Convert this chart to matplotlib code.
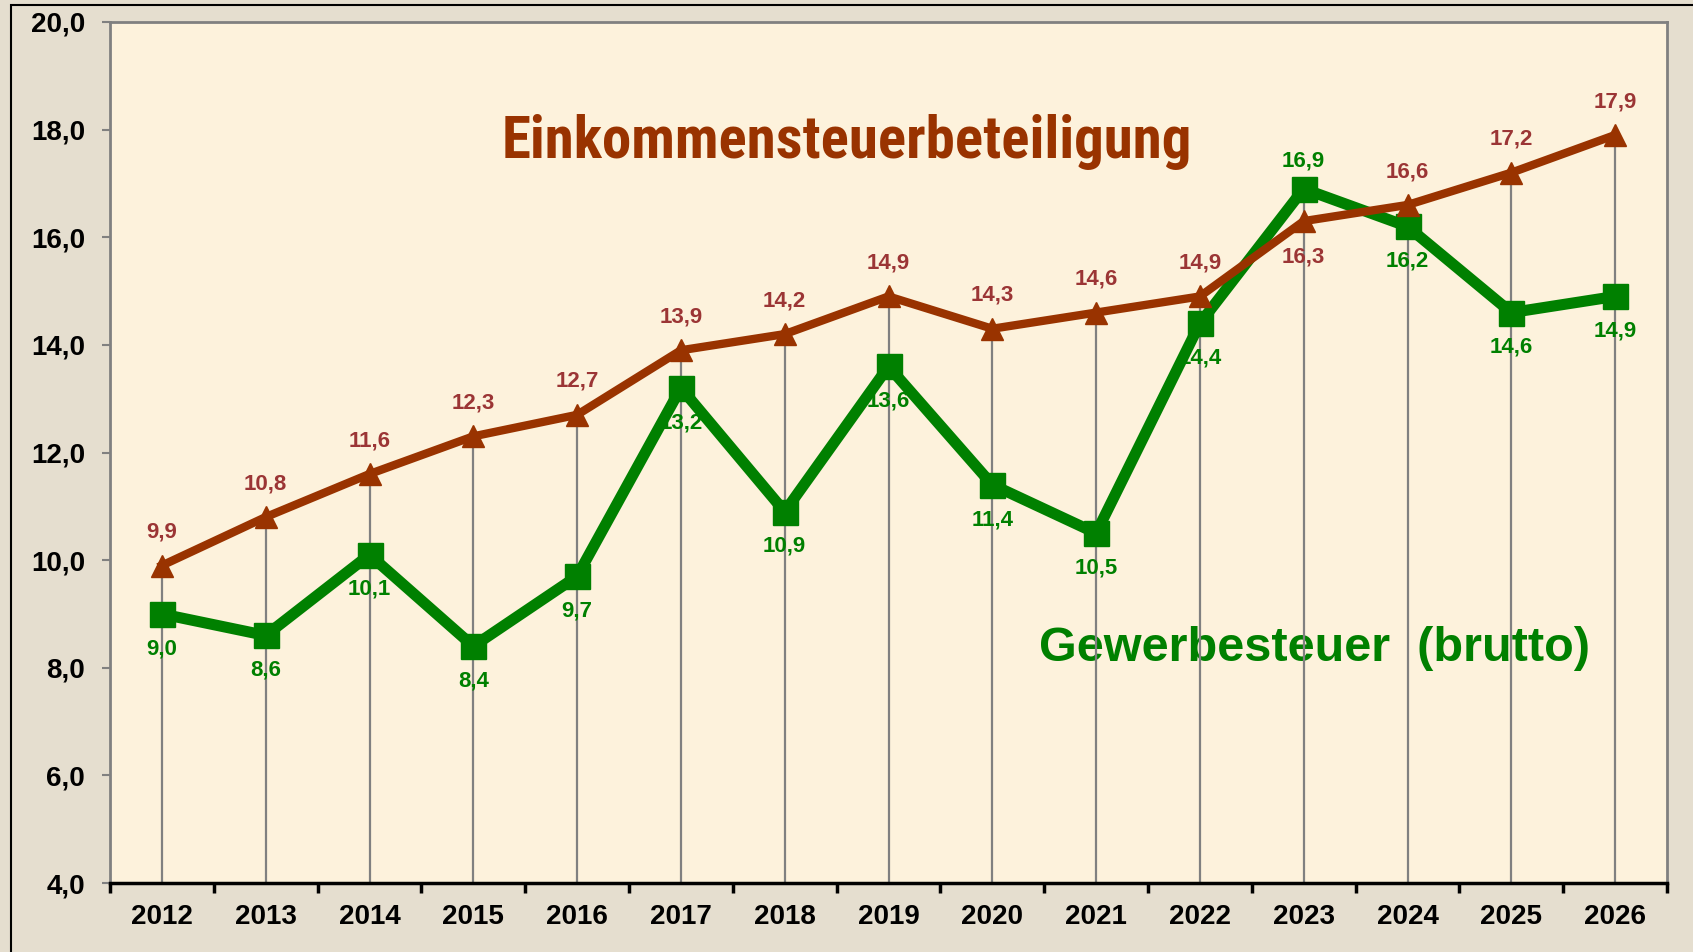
import matplotlib
matplotlib.use('Agg')
import matplotlib.pyplot as plt
from matplotlib import font_manager
from matplotlib.patches import Rectangle
import numpy as np

plt.rcParams['font.family'] = ['Liberation Sans', 'DejaVu Sans']

# Daten (Mio. EUR)
jahre = ['2012', '2013', '2014', '2015', '2016', '2017', '2018', '2019',
         '2020', '2021', '2022', '2023', '2024', '2025', '2026']
est = [9.9, 10.8, 11.6, 12.3, 12.7, 13.9, 14.2, 14.9, 14.3, 14.6, 14.9, 16.3, 16.6, 17.2, 17.9]
gew = [9.0, 8.6, 10.1, 8.4, 9.7, 13.2, 10.9, 13.6, 11.4, 10.5, 14.4, 16.9, 16.2, 14.6, 14.9]
y_ticks = [4, 6, 8, 10, 12, 14, 16, 18, 20]

braun = '#993300'
braun_lab = '#9b3535'
gruen = '#008000'

# schmale Schrift fuer den Titel suchen
schmal = None
for f in font_manager.fontManager.ttflist:
    n = (f.name + ' ' + f.fname).lower()
    if ('narrow' in n or 'condensed' in n) and 'italic' not in n and 'oblique' not in n:
        if schmal is None or 'bold' in f.fname.lower():
            schmal = f.fname
if schmal:
    titel_fp = font_manager.FontProperties(fname=schmal, size=44)
else:
    titel_fp = font_manager.FontProperties(family='Liberation Sans', weight='bold', size=44)

fig = plt.figure(figsize=(16.93, 9.52), dpi=100, facecolor='#e5decf')
ax = fig.add_axes([110/1693, 1-883/952, (1667-110)/1693, (883-22)/952])
ax.set_facecolor('#fdf2dc')

x = np.arange(len(jahre))

# Loteinien
top = np.maximum(est, gew)
ax.vlines(x, 4, top, color='#808080', lw=1.6, zorder=2)

ax.plot(x, gew, color=gruen, lw=8, marker='s', markersize=18, zorder=3)
ax.plot(x, est, color=braun, lw=6, marker='^', markersize=16, zorder=4)

for i in range(len(x)):
    if jahre[i] == '2023':
        o_est, o_gew = -26, 20
    else:
        o_est, o_gew = 24, -25
    ax.annotate(f'{est[i]:.1f}'.replace('.', ','), (x[i], est[i]), xytext=(0, o_est),
                textcoords='offset points', ha='center', va='center',
                fontsize=16, fontweight='bold', color=braun_lab, zorder=5)
    ax.annotate(f'{gew[i]:.1f}'.replace('.', ','), (x[i], gew[i]), xytext=(0, o_gew),
                textcoords='offset points', ha='center', va='center',
                fontsize=16, fontweight='bold', color=gruen, zorder=5)

titel = ax.text(6.6, 17.48, 'Einkommensteuerbeteiligung', fontproperties=titel_fp,
                color=braun, ha='center', va='baseline', zorder=1)
# Titelbreite auf ca. 690 px bringen
fig.canvas.draw()
b = titel.get_window_extent()
titel.set_fontsize(min(60, 44 * 690 / b.width))

ax.text(11.1, 8.13, 'Gewerbesteuer  (brutto)', fontweight='bold', fontsize=35,
        color=gruen, ha='center', va='baseline', zorder=1)

ax.set_xlim(-0.5, len(x) - 0.5)
ax.set_ylim(4, 20)
ax.set_yticks(y_ticks)
ax.set_yticklabels([f'{v:.1f}'.replace('.', ',') for v in y_ticks])
ax.set_xticks(x)
ax.set_xticklabels(jahre)
ax.set_xticks(np.arange(len(x) + 1) - 0.5, minor=True)
ax.tick_params(axis='x', which='major', length=0, pad=15, labelsize=20)
ax.tick_params(axis='x', which='minor', length=7, width=2.5, color='black', direction='out')
ax.tick_params(axis='y', length=6, width=1.5, color='#808080', pad=12, labelsize=20)
for lab in ax.get_xticklabels() + ax.get_yticklabels():
    lab.set_fontweight('bold')

for s in ['left', 'top', 'right']:
    ax.spines[s].set_color('#808080')
    ax.spines[s].set_linewidth(2)
ax.spines['bottom'].set_color('black')
ax.spines['bottom'].set_linewidth(2.5)

# aeusserer Rahmen
fig.patches.append(Rectangle((11/1693, -0.05), 1.1, 1.05 - 5/952, transform=fig.transFigure,
                             fill=False, edgecolor='black', lw=1.5))

fig.savefig('out.png', dpi=100, facecolor=fig.get_facecolor())
